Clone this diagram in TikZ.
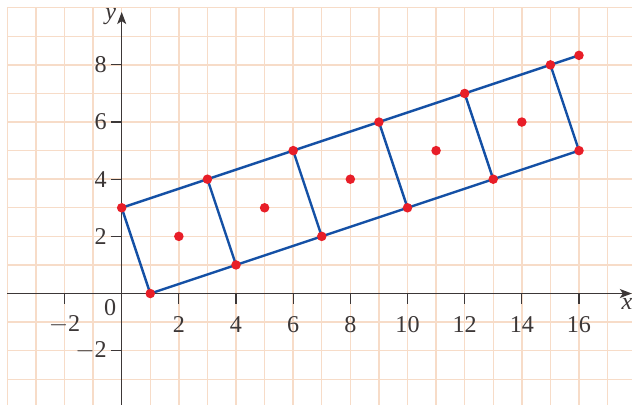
\documentclass[tikz,border=0pt]{standalone}
\usepackage{fontspec}
\setmainfont{Liberation Serif}
\usetikzlibrary{arrows.meta}
\definecolor{gridc}{RGB}{247,220,200}
\definecolor{axisc}{RGB}{60,55,55}
\definecolor{bluec}{RGB}{20,80,165}
\definecolor{redc}{RGB}{232,30,40}
\begin{document}
\begin{tikzpicture}[
  gridline/.style={gridc, line width=1.4pt},
  axisline/.style={axisc, line width=1.3pt},
  tickline/.style={axisc, line width=1.1pt},
  segline/.style={bluec, line width=2.4pt, line cap=round},
  dot/.style={circle, fill=redc, inner sep=0pt, minimum size=9.5pt},
  lbl/.style={font=\fontsize{24}{28}\selectfont, text=axisc, inner sep=1pt},
  axlbl/.style={font=\fontsize{24}{28}\selectfont\itshape, text=axisc, inner sep=1pt},
  tip/.style={-{Stealth[length=12pt,width=9pt,inset=3pt]}}
]
\useasboundingbox (-4.258,-3.90) rectangle (17.855,10.27);
\begin{scope}
\clip (-4.258,-3.90) rectangle (17.855,10.27);
\foreach \x in {-4,...,17} \draw[gridline] (\x,-4.5) -- (\x,10);
\foreach \y in {-3,...,10} \draw[gridline] (-4,\y) -- (18.5,\y);
\end{scope}
% axes
\coordinate (xs) at (-4,0);
\coordinate (xe) at (17.85,0);
\coordinate (ys) at (0,-3.95);
\coordinate (ye) at (0,9.85);
\draw[axisline, tip] (xs) -- (xe);
\draw[axisline, tip] (ys) -- (ye);
\node[axlbl] (ylab) at (-0.38,9.68) {y};
\node[axlbl] (xlab) at (17.68,-0.38) {x};
\node[lbl] (zero) at (-0.4,-0.5) {0};
\foreach \x in {-2,2,4,6,8,10,12,14,16} {
  \draw[tickline] (\x,0) -- (\x,-0.35);
  \node[lbl] (xt\x) at (\x,-1.1) {\ifnum\x<0 $-$2\else\x\fi};
}
\foreach \y in {-2,2,4,6,8} {
  \draw[tickline] (0,\y) -- (-0.38,\y);
  \node[lbl, anchor=east] (yt\y) at (-0.48,\y) {\ifnum\y<0 $-$2\else\y\fi};
}
% points
\coordinate (a0) at (0,3);
\coordinate (b0) at (1,0);
\coordinate (a1) at (3,4);
\coordinate (b1) at (4,1);
\coordinate (a2) at (6,5);
\coordinate (b2) at (7,2);
\coordinate (a3) at (9,6);
\coordinate (b3) at (10,3);
\coordinate (a4) at (12,7);
\coordinate (b4) at (13,4);
\coordinate (a5) at (15,8);
\coordinate (b5) at (16,5);
\coordinate (tr) at (16,8.3333);
\draw[segline] (a0) -- (tr);
\draw[segline] (b0) -- (b5);
\foreach \i in {0,...,5} \draw[segline] (a\i) -- (b\i);
\foreach \p in {a0,b0,a1,b1,a2,b2,a3,b3,a4,b4,a5,b5,tr} \node[dot] at (\p) {};
\foreach \i/\x/\y in {1/2/2,2/5/3,3/8/4,4/11/5,5/14/6} \node[dot] (c\i) at (\x,\y) {};
\end{tikzpicture}
\end{document}
